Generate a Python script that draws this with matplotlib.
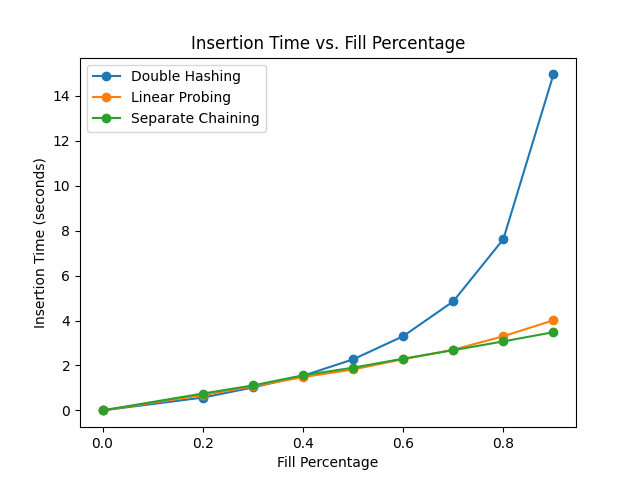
import matplotlib
matplotlib.use("Agg")
import matplotlib.pyplot as plt

fill = [0.0, 0.2, 0.3, 0.4, 0.5, 0.6, 0.7, 0.8, 0.9]
double_hashing = [0.0, 0.57, 1.02, 1.54, 2.27, 3.30, 4.85, 7.62, 14.95]
linear_probing = [0.0, 0.68, 1.07, 1.48, 1.82, 2.28, 2.70, 3.30, 4.01]
separate_chaining = [0.0, 0.75, 1.11, 1.56, 1.90, 2.30, 2.68, 3.07, 3.48]

fig, ax = plt.subplots(figsize=(6.4, 4.8), dpi=100)
ax.plot(fill, double_hashing, marker='o', label='Double Hashing')
ax.plot(fill, linear_probing, marker='o', label='Linear Probing')
ax.plot(fill, separate_chaining, marker='o', label='Separate Chaining')
ax.set_title('Insertion Time vs. Fill Percentage')
ax.set_xlabel('Fill Percentage')
ax.set_ylabel('Insertion Time (seconds)')
ax.legend(loc='upper left')
fig.savefig('out.png')
